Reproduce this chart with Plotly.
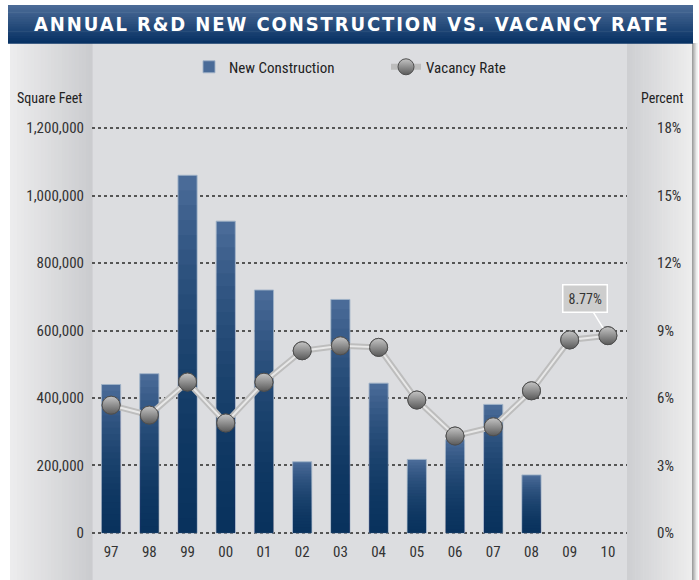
import plotly.graph_objects as go

years = ["97", "98", "99", "00", "01", "02", "03", "04", "05", "06", "07", "08", "09", "10"]
new_construction = [440000, 472000, 1060000, 924000, 720000, 211000, 692000, 444000, 218000, 276000, 381000, 172000, 0, 0]
vacancy_rate = [5.68, 5.24, 6.71, 4.89, 6.70, 8.10, 8.32, 8.25, 5.91, 4.31, 4.72, 6.32, 8.58, 8.77]
left_ticks = [0, 200000, 400000, 600000, 800000, 1000000, 1200000]
right_ticks = [0, 3, 6, 9, 12, 15, 18]
right_labels = ["0%", "3%", "6%", "9%", "12%", "15%", "18%"]

W, H = 699, 580
YMAX, Y2MAX = 1200000, 18
PAD = 6000
PAD2 = PAD * Y2MAX / YMAX
SCALE = (533 - 128) / YMAX
PL, PR = 92, 627
PT = 128 - PAD * SCALE
PB = 533 + PAD * SCALE
FONT = "Liberation Sans Narrow, Arial Narrow, Roboto Condensed, Liberation Sans, sans-serif"


def px(x):
    return (x - PL) / (PR - PL)


def py(y):
    return (PB - y) / (PB - PT)


def lerp(c1, c2, t):
    return "rgb(%d,%d,%d)" % tuple(round(a + (b - a) * t) for a, b in zip(c1, c2))


shapes = []


def rect(x0, y0, x1, y1, color):
    shapes.append(dict(type="rect", xref="paper", yref="paper", x0=px(x0), x1=px(x1),
                       y0=py(y1), y1=py(y0), fillcolor=color, line=dict(width=0), layer="below"))


def hgrad(x0, x1, y0, y1, c1, c2, n=24):
    step = (x1 - x0) / n
    for i in range(n):
        rect(x0 + i * step, y0, x0 + (i + 1) * step + 0.6, y1, lerp(c1, c2, i / (n - 1)))


def vgrad(x0, x1, y0, y1, c1, c2, n=16):
    step = (y1 - y0) / n
    for i in range(n):
        rect(x0, y0 + i * step, x1, y0 + (i + 1) * step + 0.6, lerp(c1, c2, i / (n - 1)))


# card background
rect(PL, 43, PR, H, "#dcdde0")
hgrad(10, PL, 43, H, (236, 236, 237), (203, 204, 207))
hgrad(PR, 692, 43, H, (206, 207, 210), (237, 237, 237))
hgrad(692, 697, 43, H, (160, 160, 160), (235, 235, 235), n=5)
vgrad(8, 693, 5, 43, (74, 106, 150), (8, 50, 100))

fig = go.Figure()

bars = [v if v else None for v in new_construction]

# bars: light top colour, darkened toward the bottom with stacked translucent layers
fig.add_trace(go.Bar(x=years, y=bars, width=0.5, name="New Construction",
                     marker=dict(color="#4a6b98", line=dict(color="rgba(160,178,200,0.9)", width=1)),
                     legend="legend", showlegend=True, hoverinfo="skip"))
N = 24
for i in range(1, N):
    hgt = [v * (1 - i / N) if v else None for v in new_construction]
    fig.add_trace(go.Bar(x=years, y=hgt, width=0.48,
                         marker=dict(color="rgba(0,40,90,0.07)", line=dict(width=0)),
                         showlegend=False, hoverinfo="skip"))

# vacancy line (double-stroke look) and sphere markers
sphere = dict(size=18, color="#c4c4c4", gradient=dict(type="vertical", color="#5a5a5a"),
              line=dict(color="#4f4f4f", width=1))
fig.add_trace(go.Scatter(x=years, y=vacancy_rate, yaxis="y2", mode="lines+markers", name="Vacancy Rate",
                         line=dict(color="#bdbdbd", width=6), marker=sphere,
                         legend="legend2", showlegend=True, hoverinfo="skip"))
fig.add_trace(go.Scatter(x=years, y=vacancy_rate, yaxis="y2", mode="lines",
                         line=dict(color="#e8e8e8", width=2), showlegend=False, hoverinfo="skip"))
fig.add_trace(go.Scatter(x=years, y=vacancy_rate, yaxis="y2", mode="markers", marker=sphere,
                         showlegend=False, hoverinfo="skip"))

annotations = [
    dict(text='<b><span style="letter-spacing:1.9px">ANNUAL R&D NEW CONSTRUCTION VS. VACANCY RATE</span></b>',
         xref="paper", yref="paper", x=px(352), y=py(24), showarrow=False,
         font=dict(family="DejaVu Sans Condensed, DejaVu Sans", size=20, color="white"),
         xanchor="center", yanchor="middle"),
    dict(text="Square Feet", xref="paper", yref="paper", x=px(85), y=py(98), xanchor="right", yanchor="middle",
         showarrow=False, font=dict(family=FONT, size=14, color="#222")),
    dict(text="Percent", xref="paper", yref="paper", x=px(685), y=py(98), xanchor="right", yanchor="middle",
         showarrow=False, font=dict(family=FONT, size=14, color="#222")),
    dict(text="8.77%", x=len(years) - 1, y=vacancy_rate[-1], xref="x", yref="y2", ax=-23, ay=-37,
         showarrow=True, arrowhead=0, arrowwidth=1.5, arrowcolor="#ffffff", standoff=9,
         bgcolor="#cdcdcd", bordercolor="#ffffff", borderwidth=1.5, borderpad=5,
         font=dict(family=FONT, size=14, color="#333")),
]

fig.update_layout(
    width=W, height=H,
    margin=dict(l=PL, r=W - PR, t=PT, b=H - PB, pad=0, autoexpand=False),
    paper_bgcolor="white", plot_bgcolor="rgba(0,0,0,0)",
    barmode="overlay",
    shapes=shapes, annotations=annotations,
    font=dict(family=FONT, size=15, color="#333"),
    xaxis=dict(type="category", categoryorder="array", categoryarray=years, showgrid=False,
               showline=False, zeroline=False, ticks="", tickfont=dict(size=15, color="#333"),
               ticklabelstandoff=6, range=[-0.5, len(years) - 0.5]),
    yaxis=dict(range=[-PAD, YMAX + PAD], tickvals=left_ticks, tickformat=",", showgrid=True,
               gridcolor="#555", griddash="dot", gridwidth=2, zeroline=False, showline=False,
               ticks="", ticklabelstandoff=7, tickfont=dict(size=15, color="#333")),
    yaxis2=dict(range=[-PAD2, Y2MAX + PAD2], tickvals=right_ticks, ticktext=right_labels,
                overlaying="y", side="right",
                showgrid=False, zeroline=False, showline=False, ticks="", ticklabelstandoff=29,
                tickfont=dict(size=15, color="#333")),
    legend=dict(orientation="h", x=px(189), y=py(67), xanchor="left", yanchor="middle",
                bgcolor="rgba(0,0,0,0)", font=dict(family=FONT, size=15, color="#222")),
    legend2=dict(orientation="h", x=px(386), y=py(67), xanchor="left", yanchor="middle",
                 bgcolor="rgba(0,0,0,0)", font=dict(family=FONT, size=15, color="#222")),
)

fig.write_html("out.html", config={"displayModeBar": False},
               post_script="document.body.style.margin='0';document.body.style.padding='0';")
